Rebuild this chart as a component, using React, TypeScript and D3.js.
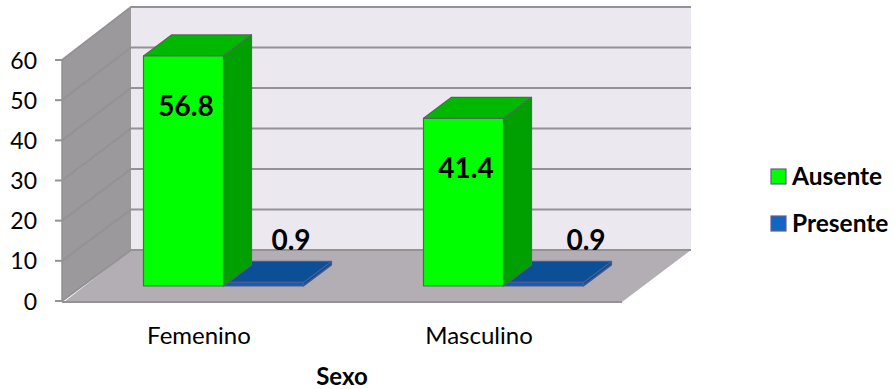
import React from "react";
import * as d3 from "d3";

const categories = ["Femenino", "Masculino"];
const seriesNames = ["Ausente", "Presente"];
const ausente = [56.8, 41.4];
const presente = [0.9, 0.9];
const ticks = [0, 10, 20, 30, 40, 50, 60];
const axisTitle = "Sexo";

const FONT = "Lato, Carlito, 'Open Sans', sans-serif";
const W = 894, H = 389;
const front = d3.scaleLinear().domain([0, 60]).range([301, 60]);
const back = d3.scaleLinear().domain([0, 60]).range([250, 7]);
const barY = d3.scaleLinear().domain([0, 60]).range([286, 43]);
const groupX = d3.scaleOrdinal<string, number>().domain(categories).range([143.5, 423.5]);
const presenteLabelX = d3.scaleOrdinal<string, number>().domain(categories).range([291, 586]);
const barW = 80, dx = 28, dy = 21;
const GRID = "#949296";
const poly = (p: [number, number][]) => d3.line()(p) + "Z";

function Box({ x, v, cFront, cTop, cSide, edge }: { x: number; v: number; cFront: string; cTop: string; cSide: string; edge: string }) {
  const y0 = barY(0), y1 = barY(v), x1 = x + barW;
  return (
    <g stroke={edge} strokeWidth={1.2} strokeLinejoin="round">
      <path d={poly([[x1, y1], [x1 + dx, y1 - dy], [x1 + dx, y0 - dy], [x1, y0]])} fill={cSide} />
      <path d={poly([[x, y1], [x + dx, y1 - dy], [x1 + dx, y1 - dy], [x1, y1]])} fill={cTop} />
      <rect x={x} y={y1} width={barW} height={y0 - y1} fill={cFront} />
    </g>
  );
}

export default function App() {
  return (
    <svg width={W} height={H} style={{ position: "absolute", left: 0, top: 0, background: "#fff" }}>
      <path d={poly([[131, back(60)], [691, back(60)], [691, back(0)], [131, back(0)]])} fill="#ebe8f0" />
      <path d={poly([[62, front(60)], [131, back(60)], [131, back(0)], [62, front(0)]])} fill="#9b999c" />
      <path d={poly([[64, 302], [131, back(0)], [691, back(0)], [622, 302]])} fill="#b3aeb3" />
      {ticks.map(t => (
        <g key={t} stroke={GRID} strokeWidth={2} fill="none">
          <path d={d3.line()([[62, front(t)], [131, back(t)], [691, back(t)]]) as string} />
          <line x1={55} x2={63} y1={front(t)} y2={front(t)} />
        </g>
      ))}
      <line x1={62} x2={62} y1={front(60)} y2={front(0)} stroke={GRID} strokeWidth={1.5} />
      <line x1={62} x2={622} y1={302} y2={302} stroke={GRID} strokeWidth={2} />
      {categories.map((c, i) => {
        const x = groupX(c);
        return (
          <g key={c}>
            <Box x={x + barW} v={presente[i]} cFront="#0f5fb8" cTop="#0b4f96" cSide="#0b4f96" edge="#4f5a90" />
            <Box x={x} v={ausente[i]} cFront="#00ff00" cTop="#00b800" cSide="#00a000" edge="#4f6a55" />
          </g>
        );
      })}
      <g fontFamily={FONT} fontWeight={700} fontSize={28} fill="#000" textAnchor="middle">
        {categories.map((c, i) => (
          <g key={c}>
            <text x={groupX(c) + 42.5} y={barY(ausente[i]) + 60}>{ausente[i].toFixed(1)}</text>
            <text x={presenteLabelX(c)} y={250}>{presente[i].toFixed(1)}</text>
          </g>
        ))}
      </g>
      <g fontFamily={FONT} fontSize={24} fill="#000">
        {ticks.map(t => <text key={t} x={37} y={front(t) + 8.5} fontSize={23} textAnchor="end">{t}</text>)}
        {categories.map(c => <text key={c} x={groupX(c) + 55.5} y={344} textAnchor="middle">{c}</text>)}
      </g>
      <text x={342} y={385} fontFamily={FONT} fontWeight={700} fontSize={24} textAnchor="middle">{axisTitle}</text>
      {seriesNames.map((s, i) => (
        <g key={s}>
          <rect x={771} y={169 + i * 47} width={15} height={15} fill={i === 0 ? "#00ff00" : "#0f66c4"} stroke="#6a5a90" strokeWidth={1.2} />
          <text x={792} y={185 + i * 47} fontFamily={FONT} fontWeight={700} fontSize={24.5}>{s}</text>
        </g>
      ))}
    </svg>
  );
}
